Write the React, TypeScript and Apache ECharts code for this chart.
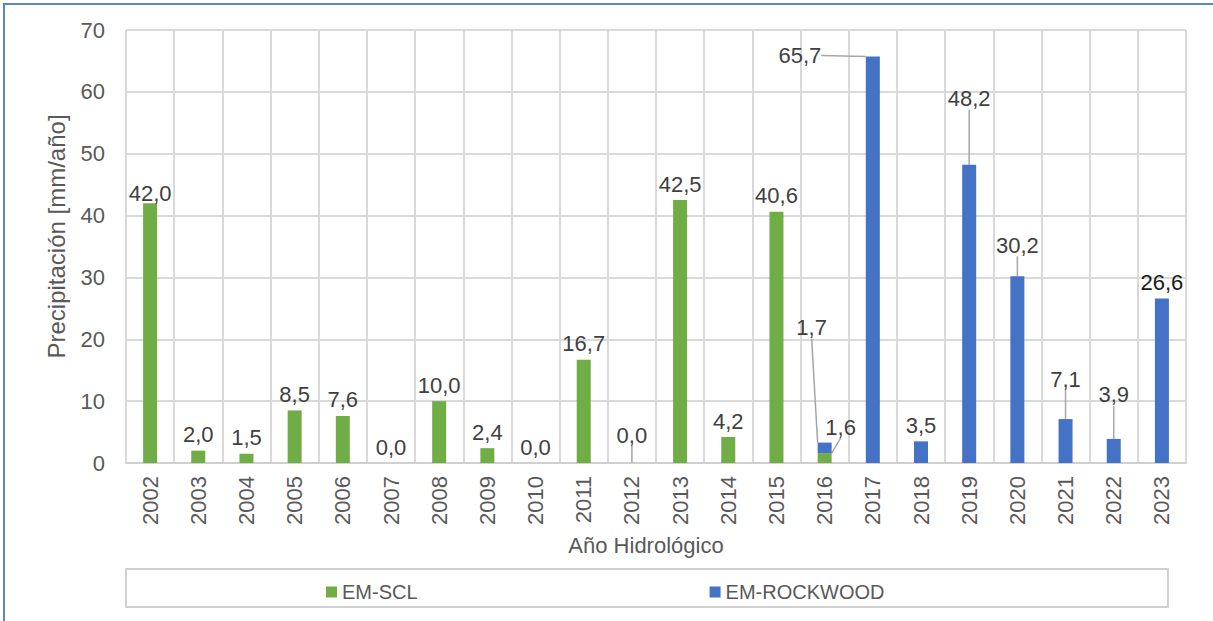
import React, { useEffect, useRef } from "react";
import * as echarts from "echarts";

const years = ["2002","2003","2004","2005","2006","2007","2008","2009","2010","2011","2012","2013","2014","2015","2016","2017","2018","2019","2020","2021","2022","2023"];
const emScl = [42.0, 2.0, 1.5, 8.5, 7.6, 0.0, 10.0, 2.4, 0.0, 16.7, 0.0, 42.5, 4.2, 40.6, 1.6, null, null, null, null, null, null, null];
const emRockwood = [null, null, null, null, null, null, null, null, null, null, null, null, null, null, 1.7, 65.7, 3.5, 48.2, 30.2, 7.1, 3.9, 26.6];
const yTicks = [0, 10, 20, 30, 40, 50, 60, 70];

// label offsets (styling only): [seriesIndex][dataIndex] -> [dx, dy, showLine]
const labelOffsets: Record<string, [number, number, boolean]> = {
  "0-0": [0, 6, false],
  "0-10": [0, -12, true],
  "0-14": [16, -10, true],
  "1-14": [-13, -99, true],
  "1-15": [-73, 15, true],
  "1-17": [0, -50, true],
  "1-18": [0, -15, true],
  "1-19": [0, -24, true],
  "1-20": [0, -28, true],
};
const darkLabels: Record<string, boolean> = { "1-21": true };

const FONT = "'Liberation Sans', Arial, sans-serif";
const fmt = (v: number) => v.toFixed(1).replace(".", ",");

function buildData(arr: (number | null)[], si: number) {
  return arr.map((v, i) => {
    const o = labelOffsets[`${si}-${i}`];
    if (v === null) return null;
    const item: any = {
      value: v,
      labelLine: { show: !!(o && o[2]) },
    };
    if (si === 1 && i === arr.length - 1) item.label = { color: "#1a1a1a" };
    return item;
  });
}

export default function App() {
  const ref = useRef<HTMLDivElement>(null);
  useEffect(() => {
    document.body.style.margin = "0";
    const chart = echarts.init(ref.current!, undefined, { renderer: "svg" });
    const labelCommon = {
      show: true,
      position: "top" as const,
      distance: 5,
      color: "#404040",
      fontSize: 22,
      fontFamily: FONT,
      formatter: (p: any) => fmt(typeof p.value === "object" ? p.value.value : p.value),
    };
    chart.setOption({
      animation: false,
      textStyle: { fontFamily: FONT },
      graphic: [
        {
          type: "rect",
          shape: { x: 4, y: 4, width: 1212, height: 640 },
          style: { fill: "none", stroke: "#5b87c9", lineWidth: 2 },
          silent: true,
        },
        {
          type: "rect",
          shape: { x: 126, y: 569, width: 1042, height: 38 },
          style: { fill: "none", stroke: "#d0d0d0", lineWidth: 2 },
          silent: true,
        },
      ],
      grid: { left: 126, right: 27, top: 30, bottom: 158, containLabel: false },
      legend: {
        left: 321,
        top: 577,
        itemWidth: 11,
        itemHeight: 11,
        itemGap: 292,
        icon: "rect",
        textStyle: { fontSize: 20, color: "#595959", fontFamily: FONT },
        data: ["EM-SCL", "EM-ROCKWOOD"],
      },
      xAxis: {
        type: "category",
        data: years,
        name: "Año Hidrológico",
        nameLocation: "middle",
        nameGap: 71,
        nameTextStyle: { fontSize: 22, color: "#595959", fontFamily: FONT, padding: [0, 20, 0, 0] },
        axisLine: { lineStyle: { color: "#d0d0d0", width: 2 } },
        axisTick: { show: false },
        axisLabel: { rotate: 90, fontSize: 22, color: "#595959", margin: 13, fontFamily: FONT },
        splitLine: { show: true, lineStyle: { color: "#d9d9d9", width: 2 } },
      },
      yAxis: {
        type: "value",
        min: yTicks[0],
        max: yTicks[yTicks.length - 1],
        interval: yTicks[1] - yTicks[0],
        name: "Precipitación [mm/año]",
        nameLocation: "middle",
        nameGap: 58,
        nameTextStyle: { fontSize: 24, color: "#595959", fontFamily: FONT, padding: [0, 0, 0, 20] },
        axisLine: { show: false },
        axisTick: { show: false },
        axisLabel: { fontSize: 22, color: "#595959", margin: 21, fontFamily: FONT },
        splitLine: { show: true, lineStyle: { color: "#d9d9d9", width: 2 } },
      },
      series: [
        {
          name: "EM-SCL",
          type: "bar",
          stack: "total",
          barWidth: 14,
          itemStyle: { color: "#70ad47" },
          data: buildData(emScl, 0),
          label: labelCommon,
          labelLine: { show: false, lineStyle: { color: "#a6a6a6", width: 1.5 } },
          labelLayout: (p: any) => {
            const o = labelOffsets[`0-${p.dataIndex}`];
            return o ? { dx: o[0], dy: o[1] } : {};
          },
        },
        {
          name: "EM-ROCKWOOD",
          type: "bar",
          stack: "total",
          barWidth: 14,
          itemStyle: { color: "#4472c4" },
          data: buildData(emRockwood, 1),
          label: labelCommon,
          labelLine: { show: false, lineStyle: { color: "#a6a6a6", width: 1.5 } },
          labelLayout: (p: any) => {
            const o = labelOffsets[`1-${p.dataIndex}`];
            return o ? { dx: o[0], dy: o[1] } : {};
          },
        },
      ],
    });
    return () => chart.dispose();
  }, []);
  return (
    <div
      ref={ref}
      style={{ position: "fixed", left: 0, top: 0, width: 1213, height: 621, background: "#fff" }}
    />
  );
}
